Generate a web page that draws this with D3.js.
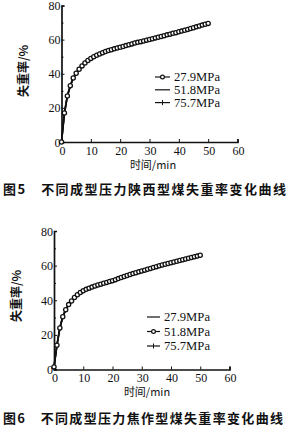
<!DOCTYPE html>
<html>
<head>
<meta charset="utf-8">
<script src="https://cdn.jsdelivr.net/npm/d3@7"></script>
<style>
  body { margin: 0; background: #fff; }
  svg { display: block; }
</style>
</head>
<body>
<div id="svg"></div>
<script>
// minutes, one sample per minute
var times = d3.range(0, 51);

// fig 5 - Shaanxi briquette
var shaanxi279 = [0, 17, 27, 33, 37.5, 40.3, 42.6, 44.6, 46.3, 47.8, 49, 50, 50.8, 51.6, 52.3, 53, 53.6, 54.1, 54.6, 55.1,
  55.5, 56, 56.5, 57, 57.5, 58, 58.4, 58.8, 59.2, 59.7, 60.1, 60.5, 61, 61.4, 61.8, 62.3, 62.8, 63.2, 63.7, 64.1,
  64.6, 65, 65.5, 66, 66.5, 67, 67.5, 68, 68.5, 69, 69.5];
var shaanxi518 = [0, 16.5, 26.6, 32.7, 37.2, 40, 42.4, 44.4, 46.1, 47.6, 48.8, 49.8, 50.6, 51.4, 52.1, 52.8, 53.4, 53.9, 54.4, 54.9,
  55.3, 55.8, 56.3, 56.8, 57.3, 57.8, 58.2, 58.6, 59, 59.5, 59.9, 60.3, 60.8, 61.2, 61.6, 62.1, 62.6, 63, 63.5, 63.9,
  64.4, 64.8, 65.3, 65.8, 66.3, 66.8, 67.3, 67.8, 68.3, 68.8, 69.3];
var shaanxi757 = [0, 17.3, 27.3, 33.2, 37.7, 40.5, 42.8, 44.8, 46.5, 48, 49.2, 50.2, 51, 51.8, 52.5, 53.2, 53.8, 54.3, 54.8, 55.3,
  55.7, 56.2, 56.7, 57.2, 57.7, 58.2, 58.6, 59, 59.4, 59.9, 60.3, 60.7, 61.2, 61.6, 62, 62.5, 63, 63.4, 63.9, 64.3,
  64.8, 65.2, 65.7, 66.2, 66.7, 67.2, 67.7, 68.2, 68.7, 69.2, 69.7];

// fig 6 - Jiaozuo briquette
var jiaozuo279 = [1.2, 14.3, 24.3, 30.7, 34.7, 37.6, 39.7, 41.7, 43.3, 44.6, 45.6, 46.4, 47.1, 47.7, 48.3, 48.9, 49.4, 49.9, 50.4, 50.9,
  51.4, 52, 52.6, 53.2, 53.8, 54.4, 55, 55.5, 56, 56.5, 57, 57.5, 58, 58.5, 59, 59.5, 60, 60.5, 60.9, 61.3,
  61.8, 62.2, 62.6, 63.1, 63.5, 63.9, 64.4, 64.8, 65.2, 65.6, 66.1];
var jiaozuo518 = [1.5, 14, 24, 30.5, 34.5, 37.5, 39.6, 41.6, 43.2, 44.5, 45.5, 46.3, 47, 47.6, 48.2, 48.8, 49.3, 49.8, 50.3, 50.8,
  51.3, 51.9, 52.5, 53.1, 53.7, 54.3, 54.9, 55.4, 55.9, 56.4, 56.9, 57.4, 57.9, 58.4, 58.9, 59.4, 59.9, 60.4, 60.8, 61.2,
  61.7, 62.1, 62.5, 63, 63.4, 63.8, 64.3, 64.7, 65.1, 65.5, 66];
var jiaozuo757 = [1.4, 13.7, 23.7, 30.2, 34.3, 37.3, 39.4, 41.4, 43, 44.3, 45.3, 46.1, 46.8, 47.4, 48, 48.6, 49.1, 49.6, 50.1, 50.6,
  51.1, 51.7, 52.3, 52.9, 53.5, 54.1, 54.7, 55.2, 55.7, 56.2, 56.7, 57.2, 57.7, 58.2, 58.7, 59.2, 59.7, 60.2, 60.6, 61,
  61.5, 61.9, 62.3, 62.8, 63.2, 63.6, 64.1, 64.5, 64.9, 65.3, 65.8];

var pressures = ["27.9MPa", "51.8MPa", "75.7MPa"];
var xTicks = [0, 10, 20, 30, 40, 50, 60];
var yTicks = [0, 20, 40, 60, 80];
var yMinor = [10, 30, 50, 70];
var xTitle = "时间/min";
var yTitle = "失重率/%";
var caption5 = "图5　不同成型压力陕西型煤失重率变化曲线";
var caption6 = "图6　不同成型压力焦作型煤失重率变化曲线";

var numFont = "'Liberation Serif', serif";
var cjkFont = "'Noto Sans CJK SC', sans-serif";

var svg = d3.select('#svg').append('svg')
  .attr('width', 289).attr('height', 428);

function drawPanel(p) {
  var x = d3.scaleLinear().domain([0, 60]).range([p.x0, p.x1]);
  var y = d3.scaleLinear().domain([0, 80]).range([p.y0, p.y1]);
  var g = svg.append('g');

  // axes: ticks point inward, labels hug the axis
  g.append('g').attr('transform', 'translate(0,' + p.y0 + ')')
    .call(d3.axisTop(x).tickValues(xTicks).tickSize(3).tickFormat(''));
  g.append('g').attr('transform', 'translate(' + p.x0 + ',0)')
    .call(d3.axisRight(y).tickValues(yTicks).tickSize(3).tickFormat(''));
  g.append('g').attr('transform', 'translate(' + p.x0 + ',0)')
    .call(d3.axisRight(y).tickValues(yMinor).tickSize(2).tickFormat(''))
    .select('.domain').remove();
  g.selectAll('.domain').attr('stroke', '#111').attr('stroke-width', 1.7);
  g.selectAll('.tick line').attr('stroke', '#111').attr('stroke-width', 1);

  g.selectAll('.xlab').data(xTicks).enter().append('text')
    .attr('x', function(d){ return x(d) + 1; })
    .attr('y', p.y0 + 12.5)
    .attr('text-anchor', 'middle')
    .style('font-family', numFont).style('font-size', '12px').attr('fill', '#111')
    .text(function(d){ return d; });
  g.selectAll('.ylab').data(yTicks).enter().append('text')
    .attr('x', p.x0 - 1)
    .attr('y', function(d){ return y(d) + 4.5; })
    .attr('text-anchor', 'end')
    .style('font-family', numFont).style('font-size', '12px').attr('fill', '#111')
    .text(function(d){ return d; });

  g.append('text').attr('x', p.xtx).attr('y', p.xty).attr('text-anchor', 'middle')
    .style('font-family', cjkFont).style('font-size', '11px').attr('fill', '#111')
    .text(xTitle);
  g.append('text')
    .attr('transform', 'translate(' + p.ytx + ',' + p.yty + ') rotate(-90)')
    .attr('text-anchor', 'middle')
    .style('font-family', cjkFont).style('font-size', '12px').style('font-weight', 'bold')
    .attr('fill', '#111')
    .text(yTitle);

  var line = d3.line()
    .x(function(d){ return x(d[0]); })
    .y(function(d){ return y(d[1]); });

  // draw plain/cross series first, circle series on top
  p.series.forEach(function(s){
    var pts = times.map(function(t, i){ return [t, s.values[i]]; });
    g.append('path').datum(pts).attr('d', line)
      .attr('fill', 'none').attr('stroke', '#111').attr('stroke-width', 1.6);
    if (s.mark === 'cross') {
      g.selectAll(null).data(pts).enter().append('line')
        .attr('x1', function(d){ return x(d[0]); })
        .attr('x2', function(d){ return x(d[0]); })
        .attr('y1', function(d){ return y(d[1]) - 2; })
        .attr('y2', function(d){ return y(d[1]) + 2; })
        .attr('stroke', '#111').attr('stroke-width', 0.8);
    }
  });
  p.series.forEach(function(s){
    if (s.mark !== 'circle') return;
    var pts = times.map(function(t, i){ return [t, s.values[i]]; });
    g.selectAll(null).data(pts).enter().append('circle')
      .attr('cx', function(d){ return x(d[0]); })
      .attr('cy', function(d){ return y(d[1]); })
      .attr('r', 2.1)
      .attr('fill', '#fff').attr('stroke', '#111').attr('stroke-width', 1.3);
  });

  // legend
  p.legend.forEach(function(s, i){
    var ly = p.ly + i * p.lstep;
    g.append('line').attr('x1', p.lx).attr('x2', p.lx + p.lw)
      .attr('y1', ly).attr('y2', ly).attr('stroke', '#111').attr('stroke-width', 1.2);
    if (s.mark === 'circle') {
      g.append('circle').attr('cx', p.lx + p.lw / 2).attr('cy', ly).attr('r', 1.9)
        .attr('fill', '#fff').attr('stroke', '#111').attr('stroke-width', 1.2);
    }
    if (s.mark === 'cross') {
      g.append('line').attr('x1', p.lx + p.lw / 2).attr('x2', p.lx + p.lw / 2)
        .attr('y1', ly - 2.5).attr('y2', ly + 2.5).attr('stroke', '#111').attr('stroke-width', 1);
    }
    g.append('text').attr('x', p.lx + p.lw + 4).attr('y', ly + 4)
      .attr('textLength', 46).attr('lengthAdjust', 'spacingAndGlyphs')
      .style('font-family', numFont).style('font-size', '12.5px').attr('fill', '#111')
      .text(s.name);
  });

  g.append('text').attr('x', p.cx).attr('y', p.cy)
    .attr('textLength', p.cw).attr('lengthAdjust', 'spacing')
    .style('font-family', cjkFont).style('font-size', '13px').style('font-weight', 'bold')
    .attr('fill', '#111')
    .text(p.caption);
}

drawPanel({
  x0: 61.5, x1: 237.5, y0: 142, y1: 5.5,
  xtx: 153, xty: 168.5, ytx: 28, yty: 71,
  lx: 155, lw: 15, ly: 77, lstep: 12.8,
  cx: 3, cy: 194, cw: 283, caption: caption5,
  series: [
    { name: pressures[1], values: shaanxi518, mark: 'none' },
    { name: pressures[2], values: shaanxi757, mark: 'cross' },
    { name: pressures[0], values: shaanxi279, mark: 'circle' }
  ],
  legend: [
    { name: pressures[0], mark: 'circle' },
    { name: pressures[1], mark: 'none' },
    { name: pressures[2], mark: 'cross' }
  ]
});

drawPanel({
  x0: 54, x1: 229.5, y0: 369.5, y1: 231,
  xtx: 147, xty: 396, ytx: 21, yty: 296,
  lx: 147, lw: 13, ly: 317, lstep: 14.5,
  cx: 3, cy: 423, cw: 280, caption: caption6,
  series: [
    { name: pressures[0], values: jiaozuo279, mark: 'none' },
    { name: pressures[2], values: jiaozuo757, mark: 'cross' },
    { name: pressures[1], values: jiaozuo518, mark: 'circle' }
  ],
  legend: [
    { name: pressures[0], mark: 'none' },
    { name: pressures[1], mark: 'circle' },
    { name: pressures[2], mark: 'cross' }
  ]
});
</script>
</body>
</html>
